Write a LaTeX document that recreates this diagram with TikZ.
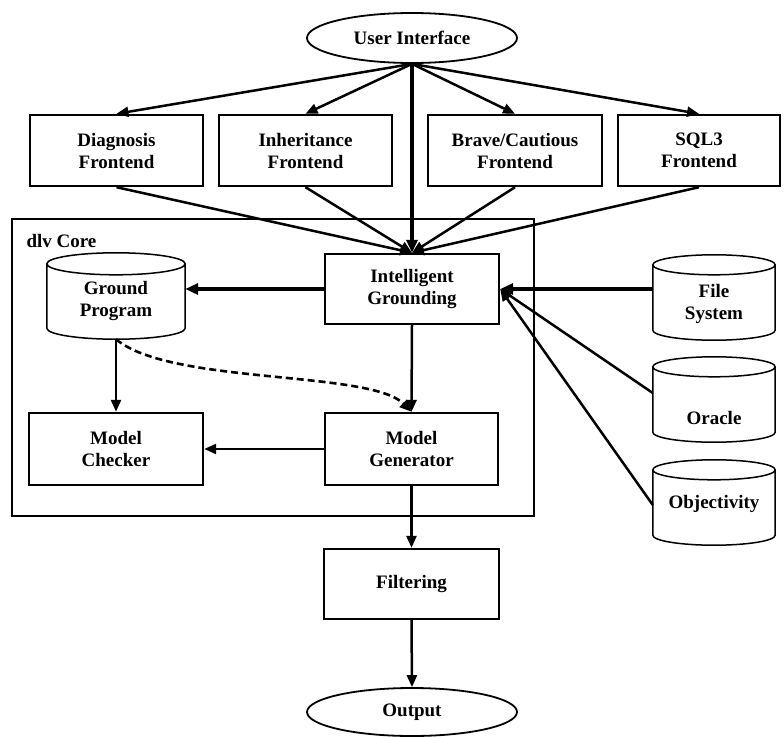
\documentclass[tikz,border=0pt]{standalone}
\usepackage{fontspec}
\newfontfamily\lblfont{Liberation Serif}
\usetikzlibrary{shapes.geometric,arrows.meta,calc}
\newcommand\drawcyl[2]{%
  \draw[cylline] let \p1=(#1.north west), \p2=(#1.south east) in
    (\x1,\y1-#2pt) -- (\x1,\y2+#2pt)
    arc[start angle=180,end angle=360,x radius={(\x2-\x1)/2},y radius=#2pt]
    -- (\x2,\y1-#2pt)
    arc[start angle=0,end angle=360,x radius={(\x2-\x1)/2},y radius=#2pt];}
\begin{document}
\begin{tikzpicture}[x=1pt,y=1pt,
  txt/.style={font=\lblfont\bfseries\fontsize{19}{22}\selectfont, align=center},
  blk/.style 2 args={txt, draw, line width=2.4pt, inner sep=0pt, minimum width=#1, minimum height=#2},
  ell/.style={txt, ellipse, draw, line width=1.8pt, inner sep=0pt, minimum width=210pt, minimum height=50pt},
  cylbox/.style 2 args={inner sep=0pt, minimum width=#1, minimum height=#2},
  cylline/.style={line width=1.5pt},
  arr/.style={line width=2.5pt, -{Triangle[length=12pt,width=10pt]}},
  thickarr/.style={line width=3.6pt, -{Triangle[length=13pt,width=11pt]}},
  dasharr/.style={line width=2.6pt, dash pattern=on 7pt off 4pt, -{Triangle[length=12pt,width=10pt]}}
]
\useasboundingbox (0,0) rectangle (784,-736);

% core frame
\node[draw, line width=2.4pt, inner sep=0pt, minimum width=522pt, minimum height=297pt] (core) at (273,-367.5) {};
\node[txt, anchor=west] (corelbl) at (23,-241) {dlv Core};

% top
\node[ell] (ui) at (412,-38) {User Interface};
\node[blk={173pt}{71pt}] (diag) at (116.5,-150.5) {Diagnosis\\Frontend};
\node[blk={173pt}{71pt}] (inh) at (305.5,-150.5) {Inheritance\\Frontend};
\node[blk={174pt}{71pt}] (brave) at (515,-150.5) {Brave/Cautious\\Frontend};
\node[blk={162pt}{71pt}] (sql) at (699,-150.5) {SQL3\\Frontend};

% core contents
\node[blk={174pt}{70pt}] (ig) at (412,-289) {Intelligent\\Grounding};
\node[cylbox={138pt}{86pt}] (gp) at (116,-296) {};
\drawcyl{gp}{11}
\node[txt] (gpt) at ([yshift=-5pt]gp.center) {Ground\\Program};
\node[blk={174pt}{72pt}] (mc) at (116,-449) {Model\\Checker};
\node[blk={173pt}{72pt}] (mg) at (411.5,-449) {Model\\Generator};

% bottom
\node[blk={175pt}{70pt}] (filt) at (411.5,-584) {Filtering};
\node[ell, minimum height=48pt] (out) at (412,-712) {Output};

% data sources
\node[cylbox={122pt}{85pt}] (fs) at (714,-297.5) {};
\drawcyl{fs}{10}
\node[txt] (fst) at ([yshift=-6pt]fs.center) {File\\System};
\node[cylbox={122pt}{85pt}] (ora) at (714,-399.5) {};
\drawcyl{ora}{10}
\node[txt] (orat) at ([yshift=-18pt]ora.center) {Oracle};
\node[cylbox={122pt}{85pt}] (obj) at (714,-502.5) {};
\drawcyl{obj}{10}
\node[txt] (objt) at ([yshift=-1pt]obj.center) {Objectivity};

% connectors from UI
\draw[arr] (ui.south) -- (diag.north);
\draw[arr] (ui.south) -- (inh.north);
\draw[arr] (ui.south) -- (brave.north);
\draw[arr] (ui.south) -- (sql.north);
\draw[thickarr] (ui.south) -- (ig.north);
% frontends to grounding
\draw[arr] (diag.south) -- (ig.north);
\draw[arr] (inh.south) -- (ig.north);
\draw[arr] (brave.south) -- (ig.north);
\draw[arr] (sql.south) -- (ig.north);
% sources to grounding
\draw[thickarr] (fs.west |- ig.east) -- (ig.east);
\draw[arr] ([yshift=6.5pt]ora.west) -- (ig.east);
\draw[arr] ([yshift=-2.5pt]obj.west) -- (ig.east);
% core flow
\draw[thickarr] (ig.west) -- (ig.west -| gp.east);
\draw[arr] (ig.south) -- (mg.north);
\draw[arr] (gp.south) -- (mc.north);
\draw[dasharr] (gp.south) .. controls (170,-385) and (370,-370) .. (mg.north);
\draw[arr] (mg.west) -- (mc.east);
\draw[arr] (mg.south) -- (filt.north);
\draw[arr] (filt.south) -- (out.north);
\end{tikzpicture}
\end{document}
